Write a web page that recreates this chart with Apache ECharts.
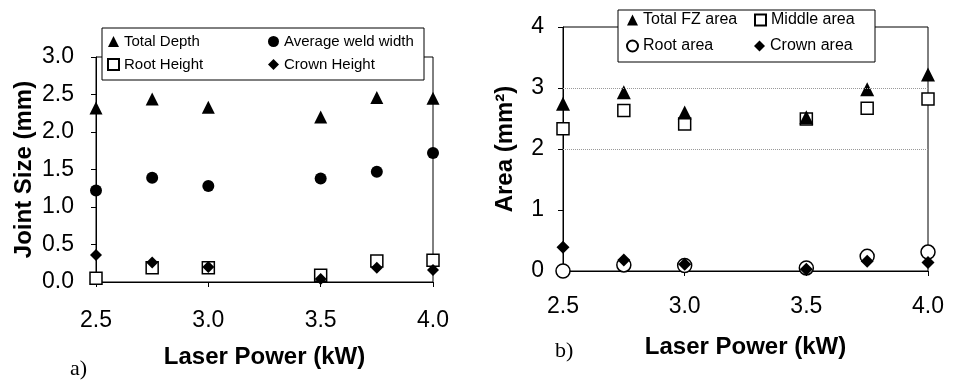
<!DOCTYPE html>
<html>
<head>
<meta charset="utf-8">
<script src="https://cdn.jsdelivr.net/npm/echarts@6/dist/echarts.min.js"></script>
<style>
html,body{margin:0;padding:0;background:#fff;}
#c{width:956px;height:382px;}
</style>
</head>
<body>
<div id="c"></div>
<script>
// ---- data ----
const powerA = [2.5, 2.75, 3.0, 3.5, 3.75, 4.0];
const totalDepth = [2.32, 2.44, 2.33, 2.2, 2.46, 2.45];
const avgWeldWidth = [1.22, 1.39, 1.28, 1.38, 1.47, 1.72];
const rootHeight = [0.05, 0.19, 0.19, 0.09, 0.28, 0.29];
const crownHeight = [0.36, 0.26, 0.2, 0.04, 0.19, 0.16];

const powerB = [2.5, 2.75, 3.0, 3.5, 3.75, 4.0];
const totalFZArea = [2.74, 2.93, 2.6, 2.52, 2.98, 3.22];
const middleArea = [2.33, 2.63, 2.41, 2.49, 2.67, 2.82];
const rootArea = [0.0, 0.1, 0.09, 0.05, 0.24, 0.31];
const crownArea = [0.39, 0.18, 0.11, 0.03, 0.16, 0.14];

const gridLinesB = [2, 3];
const legendA = ['Total Depth', 'Average weld width', 'Root Height', 'Crown Height'];
const legendB = ['Total FZ area', 'Middle area', 'Root area', 'Crown area'];

const pairs = (xs, ys) => xs.map((x, i) => [x, ys[i]]);

const FONT = 'Liberation Sans, Arial, sans-serif';
const black = '#000';

function xAxis(gi, margin, nameGap) {
  return {
    type: 'value', gridIndex: gi, min: 2.5, max: 4.0, interval: 0.5,
    name: 'Laser Power (kW)', nameLocation: 'middle', nameGap: nameGap,
    nameTextStyle: { fontFamily: FONT, fontWeight: 'bold', fontSize: 24, color: black },
    axisLine: { show: true, lineStyle: { color: black, width: 1 } },
    axisTick: { show: true, length: 5, lineStyle: { color: black } },
    axisLabel: { fontFamily: FONT, fontSize: 23, color: black, margin: margin,
      formatter: v => v.toFixed(1) },
    splitLine: { show: false }
  };
}

const solid = (name, sym, size, xi, data, z) => ({
  name, type: 'scatter', xAxisIndex: xi, yAxisIndex: xi, symbol: sym, symbolSize: size,
  itemStyle: { color: black, opacity: 1 }, emphasis: { disabled: true }, data, z: z || 3
});
const open = (name, sym, size, xi, data, z) => ({
  name, type: 'scatter', xAxisIndex: xi, yAxisIndex: xi, symbol: sym, symbolSize: size,
  itemStyle: { color: '#fff', borderColor: black, borderWidth: 1.5, opacity: 1 },
  emphasis: { disabled: true }, data, z: z || 3
});

const seriesB1 = solid('Total FZ area', 'triangle', 14, 1, pairs(powerB, totalFZArea), 4);
seriesB1.markLine = {
  silent: true, symbol: 'none', label: { show: false },
  lineStyle: { color: '#999', type: 'dotted', width: 1 },
  data: gridLinesB.map(v => ({ yAxis: v }))
};

const option = {
  animation: false,
  backgroundColor: '#fff',
  grid: [
    { left: 96, top: 57, width: 337, height: 225, show: true, borderColor: black, borderWidth: 1 },
    { left: 563, top: 27, width: 365, height: 244, show: true, borderColor: black, borderWidth: 1 }
  ],
  xAxis: [xAxis(0, 27, 63), xAxis(1, 24, 64)],
  yAxis: [
    {
      type: 'value', gridIndex: 0, min: 0, max: 3, interval: 0.5,
      name: 'Joint Size (mm)', nameLocation: 'middle', nameGap: 60,
      nameTextStyle: { fontFamily: FONT, fontWeight: 'bold', fontSize: 24, color: black },
      axisLine: { show: true, lineStyle: { color: black } },
      axisTick: { show: true, length: 5, lineStyle: { color: black } },
      axisLabel: { fontFamily: FONT, fontSize: 23, color: black, margin: 22, formatter: v => v.toFixed(1) },
      splitLine: { show: false }
    },
    {
      type: 'value', gridIndex: 1, min: 0, max: 4, interval: 1,
      name: 'Area (mm²)', nameLocation: 'middle', nameGap: 46,
      nameTextStyle: { fontFamily: FONT, fontWeight: 'bold', fontSize: 24, color: black },
      axisLine: { show: true, lineStyle: { color: black } },
      axisTick: { show: true, length: 5, lineStyle: { color: black } },
      axisLabel: { fontFamily: FONT, fontSize: 23, color: black, margin: 19 },
      splitLine: { show: false }
    }
  ],
  legend: [
    {
      data: legendA, left: 102, top: 28, width: 320, orient: 'horizontal',
      padding: [6, 4, 8, 5], itemGap: 8, itemWidth: 11, itemHeight: 11,
      backgroundColor: '#fff', borderColor: black, borderWidth: 1, borderRadius: 0,
      selectedMode: false, z: 10,
      formatter: '{a|{name}}',
      textStyle: { fontFamily: FONT, fontSize: 15, color: black,
        rich: { a: { width: 136, lineHeight: 16, fontFamily: FONT, fontSize: 15, color: black } } }
    },
    {
      data: legendB, left: 618, top: 10, width: 260, orient: 'horizontal',
      padding: [2, 3, 8, 8], itemGap: 10, itemWidth: 11, itemHeight: 11,
      backgroundColor: '#fff', borderColor: black, borderWidth: 1, borderRadius: 0,
      selectedMode: false, z: 10,
      formatter: '{a|{name}}',
      textStyle: { fontFamily: FONT, fontSize: 16, color: black,
        rich: { a: { width: 101, lineHeight: 19, fontFamily: FONT, fontSize: 16, color: black } } }
    }
  ],
  graphic: [
    { type: 'text', left: 70, top: 358, style: { text: 'a)', font: '22px "Liberation Serif", serif', fill: black } },
    { type: 'text', left: 555, top: 340, style: { text: 'b)', font: '22px "Liberation Serif", serif', fill: black } }
  ],
  series: [
    solid('Total Depth', 'triangle', 13, 0, pairs(powerA, totalDepth)),
    solid('Average weld width', 'circle', 12, 0, pairs(powerA, avgWeldWidth)),
    open('Root Height', 'rect', 12, 0, pairs(powerA, rootHeight)),
    solid('Crown Height', 'diamond', 12, 0, pairs(powerA, crownHeight)),
    seriesB1,
    open('Middle area', 'rect', 12, 1, pairs(powerB, middleArea)),
    open('Root area', 'circle', 14, 1, pairs(powerB, rootArea)),
    solid('Crown area', 'diamond', 13, 1, pairs(powerB, crownArea))
  ]
};

const chart = echarts.init(document.getElementById('c'), null, { renderer: 'canvas' });
chart.setOption(option);
</script>
</body>
</html>
